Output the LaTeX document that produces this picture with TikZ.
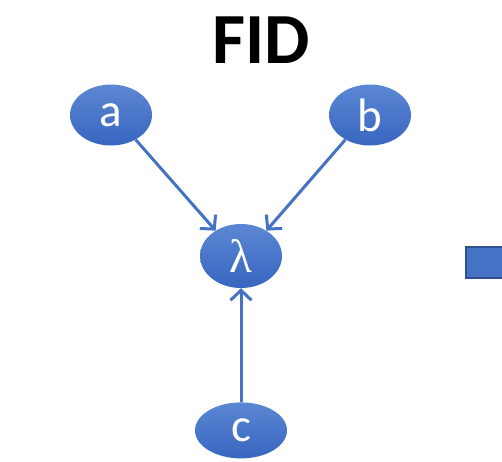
\documentclass[tikz,border=0pt]{standalone}
\usepackage{fontspec}
\setmainfont{Carlito}
\newfontfamily\greekfont{Liberation Serif}
\usetikzlibrary{shapes.geometric, arrows.meta, positioning}
\definecolor{officeblue}{HTML}{4472C4}
\definecolor{officedark}{HTML}{2F528F}
\definecolor{bluetop}{HTML}{5B87D3}
\definecolor{bluebottom}{HTML}{3866C0}
\tikzstyle{var} = [
    ellipse, minimum width=82pt, minimum height=61pt, inner sep=0pt,
    top color=bluetop, bottom color=bluebottom,
    text=white, font=\fontsize{47}{50}\selectfont
]
\tikzstyle{arrow} = [-{Straight Barb[length=10pt, width=21pt]}, line width=3pt, draw=officeblue]

\begin{document}
\begin{tikzpicture}[x=1pt, y=-1pt]
    \useasboundingbox (0,0) rectangle (502,461);
    \clip (0,0) rectangle (502,461);

    \node[font=\fontsize{72}{80}\selectfont\bfseries] (title) at (261,40) {FID};

    \node[var] (a) at (111,115) {a};
    \node[var] (b) at (370,115) {b};
    \node[var, minimum height=64pt] (lam) at (241,256) {\greekfont λ};
    \node[var, minimum width=92pt, minimum height=56pt, below=114pt of lam] (c) {c};

    \draw[arrow] (a.-45) -- (lam.135);
    \draw[arrow] (b.-135) -- (lam.45);
    \draw[arrow] (c) -- (lam);

    % next panel, only its edge shows
    \node[rectangle, draw=officedark, line width=2pt, fill=officeblue,
          minimum width=60pt, minimum height=31pt, anchor=west] (next) at (465,262) {};
\end{tikzpicture}
\end{document}
